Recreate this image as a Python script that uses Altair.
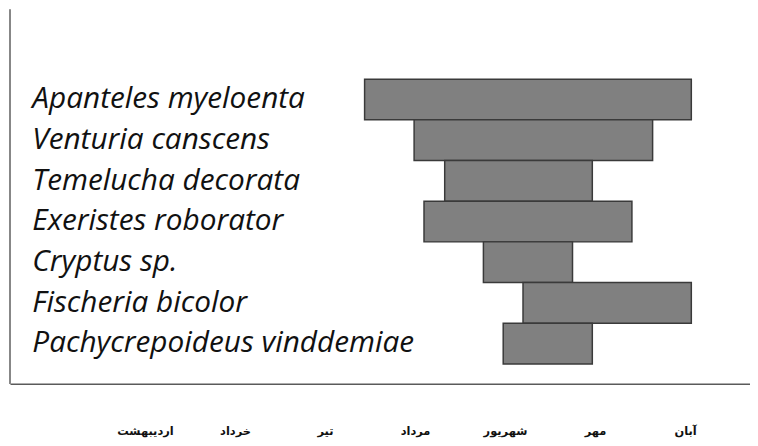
import altair as alt
import pandas as pd

species = [
    "Apanteles myeloenta",
    "Venturia canscens",
    "Temelucha decorata",
    "Exeristes roborator",
    "Cryptus sp.",
    "Fischeria bicolor",
    "Pachycrepoideus vinddemiae",
]
start = [4.44, 4.99, 5.33, 5.10, 5.76, 6.20, 5.98]
end = [8.07, 7.64, 6.97, 7.41, 6.75, 8.07, 6.97]

months = ["اردیبهشت", "خرداد", "تیر", "مرداد", "شهریور", "مهر", "آبان"]
month_pos = [2, 3, 4, 5, 6, 7, 8]

df = pd.DataFrame({"species": species, "start": start, "end": end})

label_expr = "[" + ",".join("'" + m + "'" for m in months) + "][datum.value - 2]"

W, H = 746, 377

bars = (
    alt.Chart(df)
    .mark_bar(color="#808080", stroke="#3a3a3a", strokeWidth=1.5)
    .encode(
        x=alt.X(
            "start:Q",
            scale=alt.Scale(domain=[0.5, 8.722], nice=False, zero=False),
            axis=alt.Axis(
                values=month_pos,
                labelExpr=label_expr,
                title=None,
                grid=False,
                ticks=False,
                tickSize=0,
                labelPadding=48,
                labelBaseline="middle",
                labelFont="DejaVu Sans",
                labelFontSize=11.5,
                labelFontWeight="bold",
                labelColor="#111111",
                labelOverlap=False,
                labelFlush=False,
                domainColor="#5a5a5a",
                domainWidth=1.5,
            ),
        ),
        x2="end:Q",
        y=alt.Y(
            "species:N",
            sort=species,
            scale=alt.Scale(
                domain=species,
                paddingInner=0,
                paddingOuter=0,
                range=[70, 357],
            ),
            axis=alt.Axis(
                title=None,
                ticks=False,
                tickSize=0,
                grid=False,
                domain=False,
                labelAlign="left",
                labelBaseline="alphabetic",
                labelPadding=-22,
                labelOffset=9,
                labelLimit=0,
                labelFont="Open Sans",
                labelFontStyle="italic",
                labelFontSize=30,
                labelColor="#111111",
                labelOverlap=False,
            ),
        ),
    )
)

left_line = (
    alt.Chart(df)
    .mark_rule(color="#888888", strokeWidth=1.5)
    .encode(x=alt.value(0), y=alt.value(0), y2=alt.value(H))
)

chart = (
    alt.layer(bars, left_line)
    .properties(
        width=W,
        height=H,
        autosize=alt.AutoSizeParams(type="none"),
        padding={"left": 2, "top": 0, "right": 0, "bottom": 60},
        background="white",
    )
    .configure_view(stroke=None)
)

chart.save("out.html", embed_options={"renderer": "svg", "actions": False})
